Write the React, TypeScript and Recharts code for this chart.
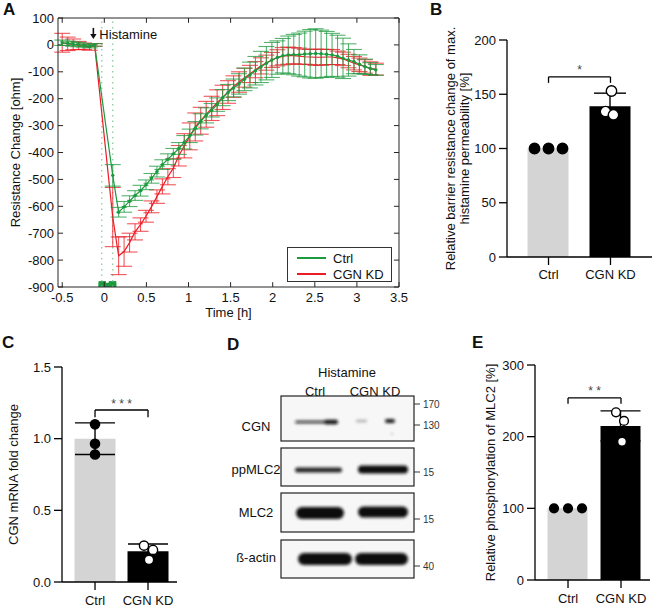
import React from "react";
import {
  Bar,
  Cell,
  ComposedChart,
  ErrorBar,
  Label,
  Legend,
  Line,
  ReferenceArea,
  ReferenceDot,
  ReferenceLine,
  Scatter,
  XAxis,
  YAxis,
} from "recharts";

const FONT = '"Liberation Sans", Arial, Helvetica, sans-serif';
const AX = "#262626";
const GREEN = "#1c9a3e";
const RED = "#ec1c24";
const GREY = "#d4d4d4";

// ---------- A: resistance time course ----------
const hours = [
  -0.5, -0.435, -0.37, -0.305, -0.24, -0.175, -0.115, 0.1, 0.17, 0.235, 0.3,
  0.365, 0.43, 0.495, 0.56, 0.625, 0.69, 0.755, 0.82, 0.885, 0.95, 1.015, 1.08,
  1.145, 1.21, 1.275, 1.34, 1.405, 1.47, 1.535, 1.6, 1.665, 1.73, 1.795, 1.86,
  1.925, 1.99, 2.055, 2.12, 2.185, 2.25, 2.315, 2.38, 2.445, 2.51, 2.575, 2.64,
  2.705, 2.77, 2.835, 2.9, 2.965, 3.03, 3.095, 3.16, 3.225,
];
const ctrl = [
  8, 6, 3, 1, -2, -5, 0, -485, -622, -602, -581, -560, -542, -520, -496, -471,
  -445, -425, -405, -385, -362, -338, -310, -284, -262, -243, -222, -196, -177,
  -160, -145, -128, -112, -96, -82, -68, -56, -47, -40, -37, -36, -36, -34, -33,
  -32, -33, -35, -37, -42, -50, -56, -62, -72, -81, -88, -93,
];
const ctrlSd = [
  10, 8, 8, 8, 6, 6, 5, 40, 18, 20, 20, 18, 20, 18, 18, 20, 18, 20, 20, 22, 25,
  25, 25, 28, 28, 25, 25, 30, 30, 33, 38, 42, 48, 53, 58, 62, 65, 62, 64, 70,
  75, 80, 85, 90, 92, 88, 85, 80, 78, 75, 60, 45, 35, 28, 22, 20,
];
const kd = [
  8, 4, 2, -2, -5, -10, 0, -640, -784, -768, -735, -695, -668, -637, -602, -564,
  -526, -490, -458, -412, -375, -340, -305, -282, -258, -236, -215, -195, -175,
  -155, -138, -122, -108, -92, -78, -66, -56, -48, -42, -40, -40, -42, -44, -45,
  -46, -46, -45, -45, -48, -52, -60, -68, -74, -80, -88, -90,
];
const kdSd = [
  35, 25, 20, 15, 12, 10, 5, 110, 70, 55, 35, 30, 25, 22, 22, 25, 28, 30, 35,
  38, 45, 50, 52, 50, 48, 45, 48, 45, 42, 40, 38, 35, 32, 30, 30, 28, 28, 30,
  32, 32, 30, 30, 28, 28, 30, 30, 28, 28, 25, 25, 25, 25, 25, 25, 25, 22,
];
const aXTicks = [-0.5, 0, 0.5, 1, 1.5, 2, 2.5, 3, 3.5];
const aYTicks = [-900, -800, -700, -600, -500, -400, -300, -200, -100, 0, 100];
const aSeries = [
  { key: "ctrl", sd: "ctrlSd", name: "Ctrl", color: GREEN },
  { key: "kd", sd: "kdSd", name: "CGN KD", color: RED },
];

const timeCourse = hours.map((t, i) => ({
  t,
  ctrl: ctrl[i],
  ctrlSd: ctrlSd[i],
  kd: kd[i],
  kdSd: kdSd[i],
}));

// ---------- B, C, E: bar + replicate panels ----------
const groups = ["Ctrl", "CGN KD"];

const bMean = [100, 139];
const bSd = [0, 12];
const bReps = [
  [100, 100, 100],
  [153, 134, 131],
];
const bTicks = [0, 50, 100, 150, 200];

const cMean = [1.0, 0.215];
const cSd = [0.11, 0.05];
const cReps = [
  [1.1, 0.965, 0.89],
  [0.254, 0.224, 0.155],
];
const cTicks = [0, 0.5, 1.0, 1.5];

const eMean = [100, 215];
const eSd = [0, 21];
const eReps = [
  [100, 100, 100],
  [234, 222, 193],
];
const eTicks = [0, 100, 200, 300];

// ---------- D: western blot (image, drawn as shapes) ----------
const blotRows = [
  {
    name: "CGN",
    top: 396,
    bottom: 441,
    labelY: 430.5,
    markers: [
      ["170", 404],
      ["130", 425],
    ],
    bands: [
      [295, 338, 422, 3.2, 0.75],
      [324, 338, 422, 4.5, 0.95],
      [356, 367, 421, 2.5, 0.3],
      [385, 395, 421, 4, 0.95],
      [391, 393, 434, 1.5, 0.4],
    ],
  },
  {
    name: "ppMLC2",
    top: 448,
    bottom: 486,
    labelY: 474,
    markers: [["15", 472]],
    bands: [
      [295, 342, 470, 5, 0.9],
      [358, 408, 469.5, 8, 1],
    ],
  },
  {
    name: "MLC2",
    top: 493,
    bottom: 532,
    labelY: 516.5,
    markers: [["15", 519]],
    bands: [
      [296, 344, 513, 12, 1],
      [358, 408, 512, 11, 1],
    ],
  },
  {
    name: "ß-actin",
    top: 540,
    bottom: 578,
    labelY: 561.5,
    markers: [["40", 566]],
    bands: [
      [298, 352, 559, 12, 1],
      [355, 408, 559, 12, 1],
    ],
  },
];

// inward tick length of the boxed plot, in data units (~5 px)
const TICK_Y = 18;
const TICK_X = 0.06;

const BottomTick = (p: any) => (
  <text x={p.x} y={p.y + 14.5} textAnchor="middle" fontSize={13} fill="#111">
    {p.payload.value}
  </text>
);
const LeftTick = (p: any) => (
  <text x={p.x - 4} y={p.y + 4.5} textAnchor="end" fontSize={13} fill="#111">
    {p.payload.value}
  </text>
);

const ALegend = () => (
  <div
    style={{
      width: 105,
      height: 35,
      border: "1px solid #333",
      boxSizing: "border-box",
      background: "#fff",
      position: "relative",
      fontSize: 13,
      fontFamily: FONT,
      color: "#111",
    }}
  >
    {aSeries.map((s, i) => (
      <div
        key={s.key}
        style={{
          position: "absolute",
          left: 9,
          top: 2 + i * 16,
          height: 16,
          display: "flex",
          alignItems: "center",
          whiteSpace: "nowrap",
        }}
      >
        <span
          style={{
            display: "inline-block",
            width: 29,
            borderTop: `2px solid ${s.color}`,
            marginRight: 7,
          }}
        />
        <span>{s.name}</span>
      </div>
    ))}
  </div>
);

const HistamineMark = (p: any) => {
  const { x, y } = p.viewBox;
  return (
    <g>
      <line x1={x} y1={y - 17} x2={x} y2={y - 9} stroke="#111" strokeWidth={1.6} />
      <path d={`M${x - 3.2},${y - 11} L${x + 3.2},${y - 11} L${x},${y - 5.8} Z`} fill="#111" />
      <text x={x + 6} y={y - 6.3} fontSize={13} fill="#111">
        Histamine
      </text>
    </g>
  );
};

function PanelA() {
  return (
    <div style={{ position: "absolute", left: 0, top: 0 }}>
      <ComposedChart
        width={410}
        height={320}
        data={timeCourse}
        margin={{ top: 18, right: 11, bottom: 3, left: 0 }}
      >
        <XAxis
          dataKey="t"
          type="number"
          domain={[-0.55, 3.5]}
          ticks={aXTicks}
          interval={0}
          allowDataOverflow
          height={30}
          tickSize={0}
          tickMargin={0}
          tickLine={false}
          axisLine={{ stroke: AX }}
          tick={BottomTick}
        >
          <Label value="Time [h]" position="insideBottom" offset={0.5} fontSize={13} fill="#111" />
        </XAxis>
        <YAxis
          type="number"
          domain={[-900, 100]}
          ticks={aYTicks}
          interval={0}
          allowDataOverflow
          width={58}
          tickSize={0}
          tickMargin={0}
          tickLine={false}
          axisLine={{ stroke: AX }}
          tick={LeftTick}
        >
          <Label
            value="Resistance Change [ohm]"
            angle={-90}
            position="insideLeft"
            offset={15}
            fontSize={13}
            fill="#111"
            style={{ textAnchor: "middle" }}
          />
        </YAxis>

        {/* box frame with inward ticks on all four sides */}
        <ReferenceLine y={100} stroke={AX} ifOverflow="visible" />
        <ReferenceLine x={3.5} stroke={AX} ifOverflow="visible" />
        {aXTicks.map((v) => (
          <ReferenceLine
            key={`xb${v}`}
            segment={[{ x: v, y: -900 }, { x: v, y: -900 + TICK_Y }]}
            stroke={AX}
            ifOverflow="visible"
          />
        ))}
        {aXTicks.map((v) => (
          <ReferenceLine
            key={`xt${v}`}
            segment={[{ x: v, y: 100 }, { x: v, y: 100 - TICK_Y }]}
            stroke={AX}
            ifOverflow="visible"
          />
        ))}
        {aYTicks.map((v) => (
          <ReferenceLine
            key={`yl${v}`}
            segment={[{ x: -0.55, y: v }, { x: -0.55 + TICK_X, y: v }]}
            stroke={AX}
            ifOverflow="visible"
          />
        ))}
        {aYTicks.map((v) => (
          <ReferenceLine
            key={`yr${v}`}
            segment={[{ x: 3.5, y: v }, { x: 3.5 - TICK_X, y: v }]}
            stroke={AX}
            ifOverflow="visible"
          />
        ))}

        <ReferenceLine x={-0.03} stroke="#86c996" strokeDasharray="1.5 4" strokeWidth={1.2} />
        <ReferenceLine x={0.1} stroke="#86c996" strokeDasharray="1.5 4" strokeWidth={1.2} />
        <ReferenceArea x1={-0.068} x2={0.142} y1={-900} y2={-884} fill={GREEN} fillOpacity={1} stroke="none" />
        <ReferenceArea x1={-0.068} x2={0.02} y1={-900} y2={-878} fill={GREEN} fillOpacity={1} stroke="none" />
        <ReferenceArea x1={0.052} x2={0.142} y1={-900} y2={-878} fill={GREEN} fillOpacity={1} stroke="none" />
        <ReferenceDot x={-0.13} y={0} r={0} fill="none" stroke="none" label={HistamineMark} />

        <Line
          dataKey="kd"
          name="CGN KD"
          stroke={RED}
          strokeWidth={1.2}
          dot={false}
          isAnimationActive={false}
        >
          <ErrorBar dataKey="kdSd" width={8} stroke={RED} strokeOpacity={0.75} strokeWidth={1.1} />
        </Line>
        <Line
          dataKey="ctrl"
          name="Ctrl"
          stroke={GREEN}
          strokeWidth={1.2}
          dot={{ r: 1.7, fill: GREEN, stroke: "none" }}
          isAnimationActive={false}
        >
          <ErrorBar dataKey="ctrlSd" width={8} stroke={GREEN} strokeOpacity={0.75} strokeWidth={1.1} />
        </Line>
        <Legend
          content={<ALegend />}
          layout="vertical"
          align="center"
          verticalAlign="middle"
          wrapperStyle={{ left: 287, top: 247, width: 105, height: 35 }}
        />
      </ComposedChart>
    </div>
  );
}

function BarPanel(props: any) {
  const {
    left, top, width, height, margin, yAxisWidth, xDomain, yDomain, yTicks,
    yFormat, means, sds, reps, jitter, capWidth, barSize, dotR, bracket, stars,
    yLabels, xTickMargin, xAxisHeight,
  } = props;
  const bars = groups.map((g, i) => ({ x: i + 1, name: g, mean: means[i], sd: sds[i] }));
  const pts = reps.flatMap((arr: number[], gi: number) =>
    arr.map((v, k) => ({ x: gi + 1, y: v, k }))
  );
  return (
    <div style={{ position: "absolute", left, top }}>
      <ComposedChart width={width} height={height} data={bars} margin={margin}>
        <XAxis
          dataKey="x"
          type="number"
          domain={xDomain}
          ticks={[1, 2]}
          interval={0}
          allowDataOverflow
          tickFormatter={(v: number) => groups[v - 1]}
          height={xAxisHeight}
          tickSize={8}
          tickMargin={xTickMargin}
          axisLine={{ stroke: "#000", strokeWidth: 1.3 }}
          tickLine={{ stroke: "#000", strokeWidth: 1.3 }}
          tick={{ fill: "#111", fontSize: 13 }}
        />
        <YAxis
          type="number"
          domain={yDomain}
          ticks={yTicks}
          interval={0}
          allowDataOverflow
          width={yAxisWidth}
          tickFormatter={yFormat}
          tickSize={8}
          tickMargin={3}
          axisLine={{ stroke: "#000", strokeWidth: 1.3 }}
          tickLine={{ stroke: "#000", strokeWidth: 1.3 }}
          tick={{ fill: "#111", fontSize: 13 }}
        >
          {yLabels.map((l: any) => (
            <Label
              key={l.text}
              value={l.text}
              angle={-90}
              position="insideLeft"
              offset={l.offset}
              fontSize={l.size}
              fill="#111"
              style={{ textAnchor: "middle" }}
            />
          ))}
        </YAxis>
        <Bar dataKey="mean" barSize={barSize} isAnimationActive={false}>
          {bars.map((b, i) => (
            <Cell key={b.name} fill={i === 0 ? GREY : "#000"} />
          ))}
          <ErrorBar dataKey="sd" width={capWidth} stroke="#000" strokeWidth={1.4} />
        </Bar>
        <Scatter
          data={pts}
          dataKey="y"
          isAnimationActive={false}
          shape={(p: any) => (
            <circle
              cx={p.cx + jitter[p.payload.x - 1][p.payload.k]}
              cy={p.cy}
              r={dotR}
              fill={p.payload.x === 1 ? "#000" : "#fff"}
              stroke="#000"
              strokeWidth={1.4}
            />
          )}
        />
        <ReferenceLine
          segment={[{ x: 1, y: bracket[0] }, { x: 2, y: bracket[0] }]}
          stroke="#000"
          strokeWidth={1.3}
          label={{ value: stars, position: "top", offset: 2.5, fontSize: 12, fill: "#444" }}
        />
        <ReferenceLine segment={[{ x: 1, y: bracket[0] }, { x: 1, y: bracket[1] }]} stroke="#000" strokeWidth={1.3} />
        <ReferenceLine segment={[{ x: 2, y: bracket[0] }, { x: 2, y: bracket[1] }]} stroke="#000" strokeWidth={1.3} />
      </ComposedChart>
    </div>
  );
}

function Overlay() {
  return (
    <svg
      width={655}
      height={610}
      style={{ position: "absolute", left: 0, top: 0, pointerEvents: "none" }}
      fontFamily={FONT}
    >
      <defs>
        <filter id="bandBlur" x="-30%" y="-100%" width="160%" height="300%">
          <feGaussianBlur stdDeviation="1.4" />
        </filter>
      </defs>
      <g fontSize={17} fontWeight="bold" fill="#111">
        <text x={3} y={15}>A</text>
        <text x={430} y={15}>B</text>
        <text x={2} y={348}>C</text>
        <text x={227} y={350}>D</text>
        <text x={472} y={348}>E</text>
      </g>
      <g fontSize={13} fill="#111">
        <text x={347} y={376.5} textAnchor="middle">Histamine</text>
        <text x={315} y={395.5} textAnchor="middle">Ctrl</text>
        <text x={375} y={395.5} textAnchor="middle">CGN KD</text>
      </g>
      {blotRows.map((row) => (
        <g key={row.name}>
          <rect
            x={281}
            y={row.top}
            width={133}
            height={row.bottom - row.top}
            fill="#f7f7f7"
            stroke="#222"
            strokeWidth={1.2}
          />
          <g filter="url(#bandBlur)">
            {row.bands.map((b, i) => (
              <rect
                key={i}
                x={b[0]}
                y={b[2] - b[3] / 2}
                width={b[1] - b[0]}
                height={b[3]}
                rx={b[3] / 2}
                fill="#111"
                fillOpacity={b[4]}
              />
            ))}
          </g>
          <text x={256} y={row.labelY} textAnchor="middle" fontSize={13} fill="#111">
            {row.name}
          </text>
          {row.markers.map((m) => (
            <g key={String(m[0]) + m[1]}>
              <line x1={414} y1={m[1] as number} x2={420} y2={m[1] as number} stroke="#333" />
              <text x={423} y={(m[1] as number) + 3.5} fontSize={10} fill="#333">
                {m[0]}
              </text>
            </g>
          ))}
        </g>
      ))}
    </svg>
  );
}

export default function App() {
  return (
    <div
      style={{
        position: "absolute",
        left: 0,
        top: 0,
        width: 655,
        height: 610,
        background: "#fff",
        fontFamily: FONT,
        overflow: "hidden",
      }}
    >
      <PanelA />
      <BarPanel
        left={330}
        top={0}
        width={325}
        height={300}
        margin={{ top: 40, right: 3, bottom: 13, left: 0 }}
        yAxisWidth={177}
        xAxisHeight={30}
        xTickMargin={5}
        xDomain={[0.33, 2.67]}
        yDomain={[0, 200]}
        yTicks={bTicks}
        yFormat={(v: number) => String(v)}
        means={bMean}
        sds={bSd}
        reps={bReps}
        jitter={[
          [-14, 0, 14],
          [1, -5, 3],
        ]}
        capWidth={16}
        barSize={41}
        dotR={5.2}
        bracket={[166, 160.5]}
        stars="*"
        yLabels={[
          { text: "Relative barrier resistance change of max.", offset: 120, size: 13 },
          { text: "histamine permeability [%]", offset: 134, size: 13 },
        ]}
      />
      <BarPanel
        left={0}
        top={320}
        width={210}
        height={290}
        margin={{ top: 47, right: 33, bottom: 2, left: 0 }}
        yAxisWidth={62}
        xAxisHeight={26}
        xTickMargin={6}
        xDomain={[0.377, 2.547]}
        yDomain={[0, 1.5]}
        yTicks={cTicks}
        yFormat={(v: number) => v.toFixed(1)}
        means={cMean}
        sds={cSd}
        reps={cReps}
        jitter={[
          [0, 0, 0],
          [-4, 5, 1],
        ]}
        capWidth={20}
        barSize={41}
        dotR={4.6}
        bracket={[1.2, 1.15]}
        stars="* * *"
        yLabels={[{ text: "CGN mRNA fold change", offset: 13, size: 13 }]}
      />
      <BarPanel
        left={440}
        top={320}
        width={215}
        height={290}
        margin={{ top: 45, right: 5, bottom: 2, left: 0 }}
        yAxisWidth={95}
        xAxisHeight={28}
        xTickMargin={6}
        xDomain={[0.377, 2.547]}
        yDomain={[0, 300]}
        yTicks={eTicks}
        yFormat={(v: number) => String(v)}
        means={eMean}
        sds={eSd}
        reps={eReps}
        jitter={[
          [-14, 0, 14],
          [-5, 3, 1],
        ]}
        capWidth={20}
        barSize={40}
        dotR={4.4}
        bracket={[254, 246]}
        stars="* *"
        yLabels={[{ text: "Relative phosphorylation of MLC2 [%]", offset: 50, size: 13 }]}
      />
      <Overlay />
    </div>
  );
}
